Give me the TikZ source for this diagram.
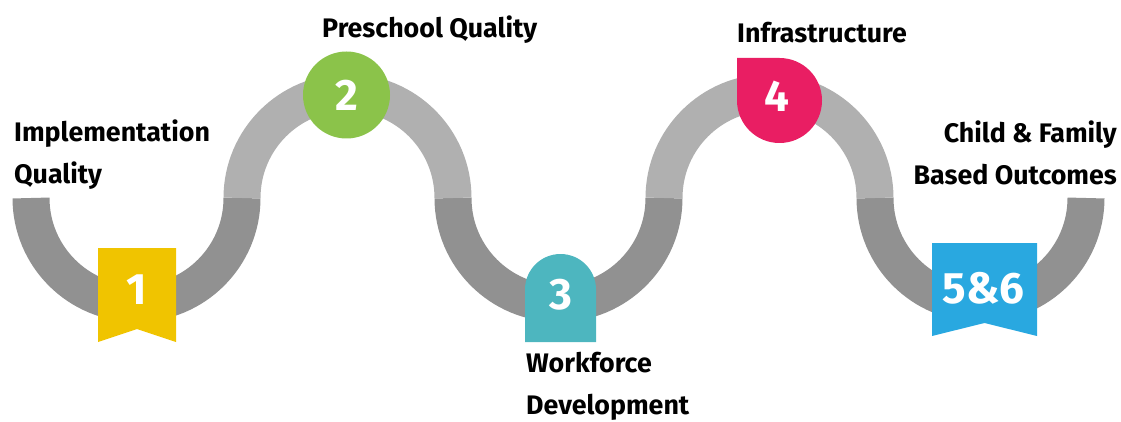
\documentclass[tikz,border=0pt]{standalone}
\usepackage{fontspec}
\setmainfont{Fira Sans}
\definecolor{pathlight}{HTML}{B0B0B0}
\definecolor{pathdark}{HTML}{919191}
\definecolor{stepyellow}{HTML}{F0C400}
\definecolor{stepgreen}{HTML}{8BC34A}
\definecolor{stepteal}{HTML}{4DB6BF}
\definecolor{steppink}{HTML}{E91E63}
\definecolor{stepblue}{HTML}{29A8E0}
\tikzset{
    num/.style={text=white, inner sep=0, font=\fontsize{44}{44}\selectfont\bfseries},
    lbl/.style={inner sep=0, font=\fontsize{26.8}{42}\selectfont\bfseries}
}

\begin{document}
\begin{tikzpicture}[x=1pt, y=1pt]
    \useasboundingbox (0,0) rectangle (1121,421);
    % the road: dark halves below, light halves above
    \foreach \cx in {136.5, 558.5, 980.5}
    \draw[pathdark, line width=37pt] (\cx-105.5,223) arc[start angle=180, end angle=360, radius=105.5];
    \foreach \cx in {347.5, 769.5}
    \draw[pathlight, line width=37pt] (\cx-105.5,223) arc[start angle=180, end angle=0, radius=105.5];
    % markers
    \fill[stepyellow] (98,173) -- (176,173) -- (176,79) -- (137,92) -- (98,79) -- cycle;
    \fill[stepgreen] (346.5,326) circle [radius = 43.5];
    \fill[stepteal] (525,79) -- (525,131.5) arc[start angle=180, end angle=0, radius=35.5] -- (596,79) -- cycle;
    \fill[steppink] (737,363) -- (779.5,363) arc[start angle=90, end angle=-180, radius=42.5] -- cycle;
    \fill[stepblue] (932,178) -- (1037,178) -- (1037,85) -- (984.5,98) -- (932,85) -- cycle;
    \node[num] (one) at (137,131) {1};
    \node[num] (two) at (346.5,326) {2};
    \node[num] (three) at (560.5,126) {3};
    \node[num] (four) at (777,325) {4};
    \node[num] (five) at (983.5,133) {5\&6};
    % labels
    \node[lbl, anchor=west, align=left] (impl) at (14,266.5) {Implementation\\Quality};
    \node[lbl, anchor=west] (presch) at (322,391.5) {Preschool Quality};
    \node[lbl, anchor=west] (infra) at (737,388) {Infrastructure};
    \node[lbl, anchor=east, align=right] (outc) at (1117,268) {Child \& Family\\Based Outcomes};
    \node[lbl, anchor=west, align=left] (work) at (526,34.5) {Workforce\\Development};
\end{tikzpicture}
\end{document}
